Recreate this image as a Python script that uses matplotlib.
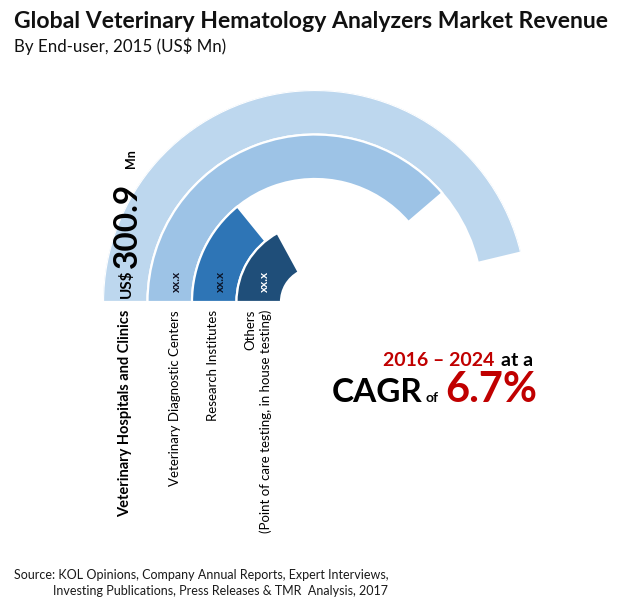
import numpy as np
import matplotlib
matplotlib.use("Agg")
import matplotlib.pyplot as plt

plt.rcParams['font.family'] = ['Lato', 'DejaVu Sans']

# ---- data ----
categories = ["Veterinary Hospitals and Clinics", "Veterinary Diagnostic Centers",
              "Research Institutes", "Others\n(Point of care testing, in house testing)"]
values = [300.9, 252.0, 92.0, 111.0]
value_labels = ["", "xx.x", "xx.x", "xx.x"]
colors = ["#BDD7EE", "#9DC3E6", "#2E75B6", "#1F4E79"]
scale_max = 325.3          # value that would span a half circle
title = "Global Veterinary Hematology Analyzers Market Revenue"
subtitle = "By End-user, 2015 (US$ Mn)"

W, H = 620, 615
fig = plt.figure(figsize=(W / 100, H / 100), dpi=100)

# polar axes: centre (315, 302) px, radius 212 px
cx, cy, R = 315, 302, 212
pax = fig.add_axes([(cx - R) / W, (H - cy - R) / H, 2 * R / W, 2 * R / H], projection='polar')
pax.set_theta_zero_location('W')
pax.set_theta_direction(-1)
pax.set_ylim(0, R)
pax.axis('off')

outer = [212, 167.5, 123, 78.5]
ring_w = 44.5
for v, c, ro in zip(values, colors, outer):
    span = np.deg2rad(v / scale_max * 180.0)
    pax.bar(0, ring_w, width=span, bottom=ro - ring_w, align='edge',
            color=c, edgecolor='white', linewidth=1.6)

# overlay axes in pixel coordinates
ax = fig.add_axes([0, 0, 1, 1])
ax.set_xlim(0, W)
ax.set_ylim(H, 0)
ax.axis('off')

ax.text(14, 22, title, fontsize=16.6, fontweight='bold', ha='left', va='center', color='#111111')
ax.text(14, 46, subtitle, fontsize=12.2, ha='left', va='center', color='#111111')

# big value label on outer ring
ax.text(126, 284, "US$", fontsize=11, fontweight='bold', rotation=90, ha='center', va='center')
ax.text(127, 225, "300.9", fontsize=24, fontweight='bold', rotation=90, ha='center', va='center')
ax.text(131, 159, "Mn", fontsize=9, fontweight='bold', rotation=90, ha='center', va='center')

# value labels on inner rings
lab_x = [125, 176, 220, 264]
lab_col = ['black', '#111122', '#0a1428', 'white']
for x, t, c in zip(lab_x, value_labels, lab_col):
    if t:
        ax.text(x, 281, t, fontsize=8.5, fontweight='bold', rotation=90,
                ha='center', va='center', color=c)

# category labels
cat_x = [125, 175, 213, 258]
cat_w = ['bold', 'normal', 'normal', 'normal']
for x, t, w in zip(cat_x, categories, cat_w):
    ax.text(x, 310, t, fontsize=10.5 if w == 'bold' else 9.5, fontweight=w, rotation=90,
            ha='center', va='top', multialignment='right', color='black',
            linespacing=1.25)

# CAGR annotation
ax.text(383, 361, "2016 – 2024", fontsize=14, fontweight='bold', color='#C00000',
        ha='left', va='center')
ax.text(533, 361, "at a", fontsize=14, fontweight='bold', color='black',
        ha='right', va='center')
ax.text(332, 402, "CAGR", fontsize=24, fontweight='bold', color='black',
        ha='left', va='baseline')
ax.text(425, 402, "of", fontsize=10, fontweight='bold', color='black',
        ha='left', va='baseline')
ax.text(445, 402, "6.7%", fontsize=30, fontweight='bold', color='#C00000',
        ha='left', va='baseline')

# source
ax.text(388, 575, "Source: KOL Opinions, Company Annual Reports, Expert Interviews,",
        fontsize=9.0, ha='right', va='center', color='#1a1a1a')
ax.text(388, 591, "Investing Publications, Press Releases & TMR  Analysis, 2017",
        fontsize=9.0, ha='right', va='center', color='#1a1a1a')

fig.savefig("out.png", dpi=100, facecolor='white')
